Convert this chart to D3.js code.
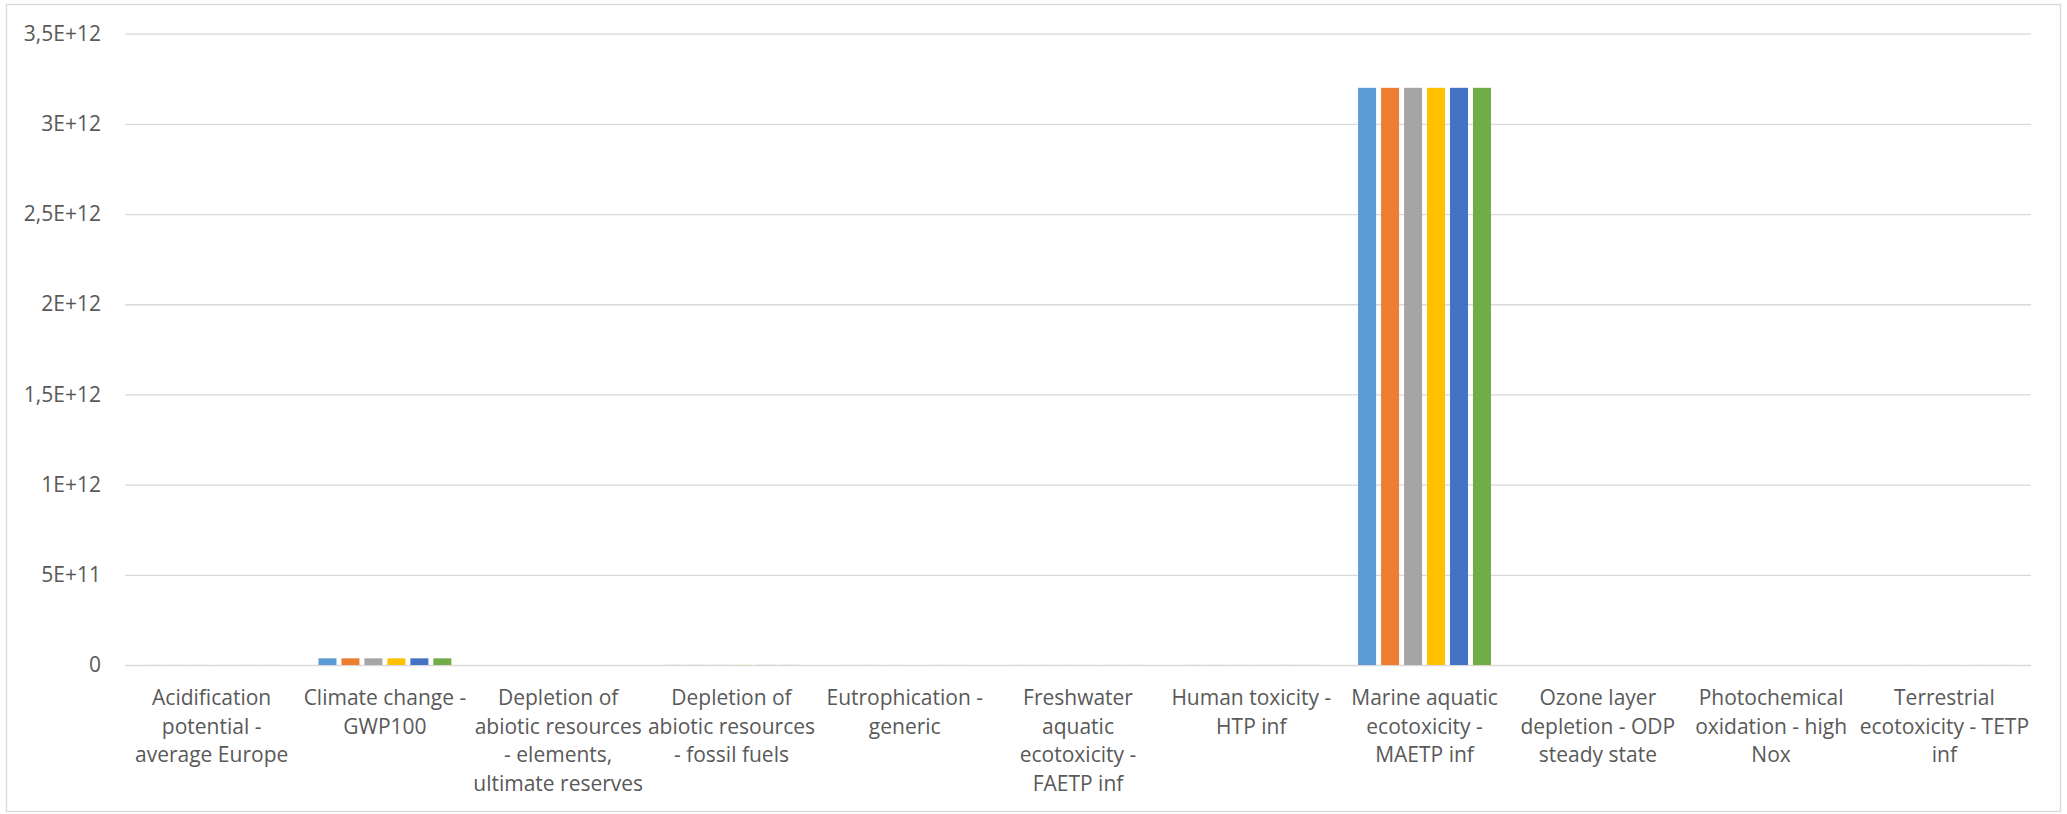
<!DOCTYPE html>
<html>
<head>
<meta charset="utf-8">
<script src="https://cdn.jsdelivr.net/npm/d3@7"></script>
<style>
  html, body { margin: 0; padding: 0; background: #fff; }
  svg { display: block; }
</style>
</head>
<body>
<svg id="chart" width="2067" height="814"></svg>
<script>
// Impact categories (wrapped into lines as displayed under the axis)
const categories = [
  ["Acidification", "potential -", "average Europe"],
  ["Climate change -", "GWP100"],
  ["Depletion of", "abiotic resources", "- elements,", "ultimate reserves"],
  ["Depletion of", "abiotic resources", "- fossil fuels"],
  ["Eutrophication -", "generic"],
  ["Freshwater", "aquatic", "ecotoxicity -", "FAETP inf"],
  ["Human toxicity -", "HTP inf"],
  ["Marine aquatic", "ecotoxicity -", "MAETP inf"],
  ["Ozone layer", "depletion - ODP", "steady state"],
  ["Photochemical", "oxidation - high", "Nox"],
  ["Terrestrial", "ecotoxicity - TETP", "inf"]
];

const seriesNames = ["Series 1", "Series 2", "Series 3", "Series 4", "Series 5", "Series 6"];
const seriesColors = ["#5B9BD5", "#ED7D31", "#A5A5A5", "#FFC000", "#4472C4", "#70AD47"];

// One value per category for each series
const series1 = [1.6e8, 3.7e10, 2.0e5, 4.3e8, 8.0e7, 1.2e8, 2.5e8, 3.2e12, 2.0e3, 1.0e7, 1.1e8];
const series2 = [1.6e8, 3.7e10, 2.0e5, 4.3e8, 8.0e7, 1.2e8, 2.5e8, 3.2e12, 2.0e3, 1.0e7, 1.1e8];
const series3 = [1.6e8, 3.7e10, 2.0e5, 4.3e8, 8.0e7, 1.2e8, 2.5e8, 3.2e12, 2.0e3, 1.0e7, 1.1e8];
const series4 = [1.6e8, 3.7e10, 2.0e5, 4.3e8, 8.0e7, 1.2e8, 2.5e8, 3.2e12, 2.0e3, 1.0e7, 1.1e8];
const series5 = [1.6e8, 3.7e10, 2.0e5, 4.3e8, 8.0e7, 1.2e8, 2.5e8, 3.2e12, 2.0e3, 1.0e7, 1.1e8];
const series6 = [1.6e8, 3.7e10, 2.0e5, 4.3e8, 8.0e7, 1.2e8, 2.5e8, 3.2e12, 2.0e3, 1.0e7, 1.1e8];
const seriesValues = [series1, series2, series3, series4, series5, series6];

const yTicks = [0, 5e11, 1e12, 1.5e12, 2e12, 2.5e12, 3e12, 3.5e12];
const yTickLabels = ["0", "5E+11", "1E+12", "1,5E+12", "2E+12", "2,5E+12", "3E+12", "3,5E+12"];

const W = 2067, H = 814;
const margin = { left: 125, right: 36, top: 33.7, bottom: 149 };
const plotW = W - margin.left - margin.right;
const plotH = H - margin.top - margin.bottom;

const svg = d3.select("#chart");
const font = "'Open Sans', 'Segoe UI', sans-serif";
const textColor = "#595959";

// outer chart frame
svg.append("rect")
  .attr("x", 6.5).attr("y", 4.5)
  .attr("width", W - 13).attr("height", H - 7)
  .attr("fill", "#fff")
  .attr("stroke", "#d9d9d9").attr("stroke-width", 1.3);

const g = svg.append("g").attr("transform", `translate(${margin.left},${margin.top})`);

const x0 = d3.scaleBand()
  .domain(d3.range(categories.length))
  .range([0, plotW])
  .paddingInner(0).paddingOuter(0);

const groupFrac = 0.767;
const x1 = d3.scaleBand()
  .domain(d3.range(seriesNames.length))
  .range([x0.bandwidth() * (1 - groupFrac) / 2, x0.bandwidth() * (1 + groupFrac) / 2])
  .paddingInner(0.217).paddingOuter(0);

const y = d3.scaleLinear().domain([0, 3.5e12]).range([plotH, 0]);

// gridlines + y labels
const yAxis = d3.axisLeft(y)
  .tickValues(yTicks)
  .tickSize(-plotW)
  .tickPadding(24)
  .tickFormat((d, i) => yTickLabels[i]);

const ya = g.append("g").call(yAxis);
ya.select(".domain").remove();
ya.selectAll(".tick line").attr("stroke", "#d9d9d9").attr("stroke-width", 1.3);
ya.selectAll(".tick text")
  .attr("fill", textColor)
  .style("font-family", font)
  .style("font-size", "21px");

// bars
const groups = g.selectAll(".cat")
  .data(categories.map((c, i) => i))
  .join("g")
  .attr("class", "cat")
  .attr("transform", i => `translate(${x0(i)},0)`);

groups.selectAll("rect")
  .data(ci => seriesValues.map((s, si) => ({ si, v: s[ci] })))
  .join("rect")
  .attr("x", d => x1(d.si))
  .attr("width", x1.bandwidth())
  .attr("y", d => y(d.v))
  .attr("height", d => plotH - y(d.v))
  .attr("fill", d => seriesColors[d.si]);

// category axis labels
const xa = g.append("g").attr("transform", `translate(0,${plotH})`)
  .call(d3.axisBottom(x0).tickSize(0).tickFormat(""));
xa.select(".domain").remove();

xa.selectAll(".tick").each(function(i) {
  const t = d3.select(this).append("text")
    .attr("text-anchor", "middle")
    .attr("fill", textColor)
    .style("font-family", font)
    .style("font-size", "21px");
  categories[i].forEach((line, li) => {
    t.append("tspan").attr("x", 0).attr("y", 40 + li * 28.7).text(line);
  });
});
</script>
</body>
</html>
